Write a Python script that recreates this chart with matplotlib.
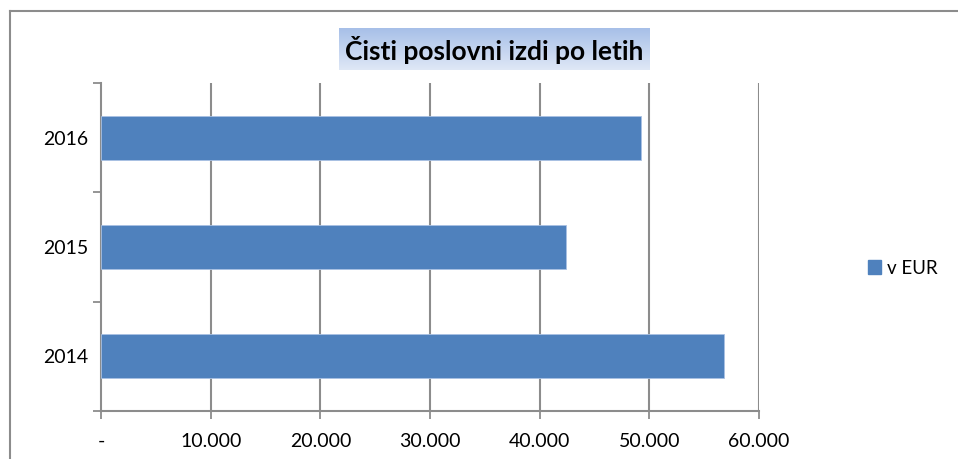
import matplotlib
matplotlib.use("Agg")
import matplotlib.pyplot as plt
import numpy as np
from matplotlib.ticker import FuncFormatter
from matplotlib.lines import Line2D
from matplotlib.patches import Patch

years = ["2014", "2015", "2016"]
values = [56850, 42400, 49250]
series_name = "v EUR"
title = "Čisti poslovni izdi po letih"
xticks = [0, 10000, 20000, 30000, 40000, 50000, 60000]

plt.rcParams['font.family'] = ['Lato', 'DejaVu Sans']

fig = plt.figure(figsize=(9.58, 4.59), dpi=100)
W, H = 958, 459

def fx(px):
    return px / W

def fy(py):
    return 1 - py / H

ax = fig.add_axes([fx(101), fy(411), fx(759) - fx(101), fy(83) - fy(411)])
gray = "#8c8c8c"
bar_color = "#4f81bd"

ypos = np.arange(len(years))
ax.barh(ypos, values, height=0.4, color=bar_color, edgecolor="#a9c1e3", linewidth=0.6, zorder=3)
ax.set_xlim(0, 60000)
ax.set_ylim(-0.5, 2.5)

ax.set_xticks(xticks)
ax.xaxis.set_major_formatter(FuncFormatter(lambda v, p: "-" if v == 0 else f"{int(v):,}".replace(",", ".")))
ax.set_yticks(ypos)
ax.set_yticklabels(years)
ax.set_yticks([-0.5, 0.5, 1.5, 2.5], minor=True)
ax.tick_params(axis='y', which='major', length=0, pad=9, labelsize=14)
ax.tick_params(axis='y', which='minor', length=6, width=1.3, color=gray, direction='out')
ax.tick_params(axis='x', which='major', length=6, width=1.3, color=gray, direction='out', pad=10, labelsize=14)

for x in xticks[1:]:
    ax.axvline(x, color=gray, linewidth=1.5, zorder=1)

for s in ['top', 'right']:
    ax.spines[s].set_visible(False)
for s in ['left', 'bottom']:
    ax.spines[s].set_color(gray)
    ax.spines[s].set_linewidth(1.5)

# title box with gradient
tb = fig.add_axes([fx(339), fy(70), fx(650) - fx(339), fy(28) - fy(70)])
grad = np.linspace(0, 1, 100).reshape(-1, 1)
top_c = np.array([0xa7, 0xbf, 0xe8]) / 255
bot_c = np.array([0xdf, 0xe8, 0xf6]) / 255
img = top_c[None, None, :] * (1 - grad[:, :, None]) + bot_c[None, None, :] * grad[:, :, None]
tb.imshow(img, aspect='auto', extent=[0, 1, 0, 1], origin='upper')
tb.set_xlim(0, 1)
tb.set_ylim(0, 1)
tb.axis('off')
tb.text(0.5, 0.48, title, ha='center', va='center', fontsize=19, fontweight='bold', color='black')

# legend
leg = fig.legend(handles=[Patch(facecolor=bar_color, edgecolor=bar_color)], labels=[series_name],
                 loc='center left', bbox_to_anchor=(fx(851), fy(268)), frameon=False,
                 fontsize=13.5, handlelength=0.7, handleheight=0.7, handletextpad=0.3)

# outer frame (top and left edges visible)
fig.add_artist(Line2D([fx(10), 1.0], [fy(11), fy(11)], color=gray, linewidth=1.5))
fig.add_artist(Line2D([fx(10), fx(10)], [fy(11), 0.0], color=gray, linewidth=1.5))

fig.savefig("out.png", dpi=100)
